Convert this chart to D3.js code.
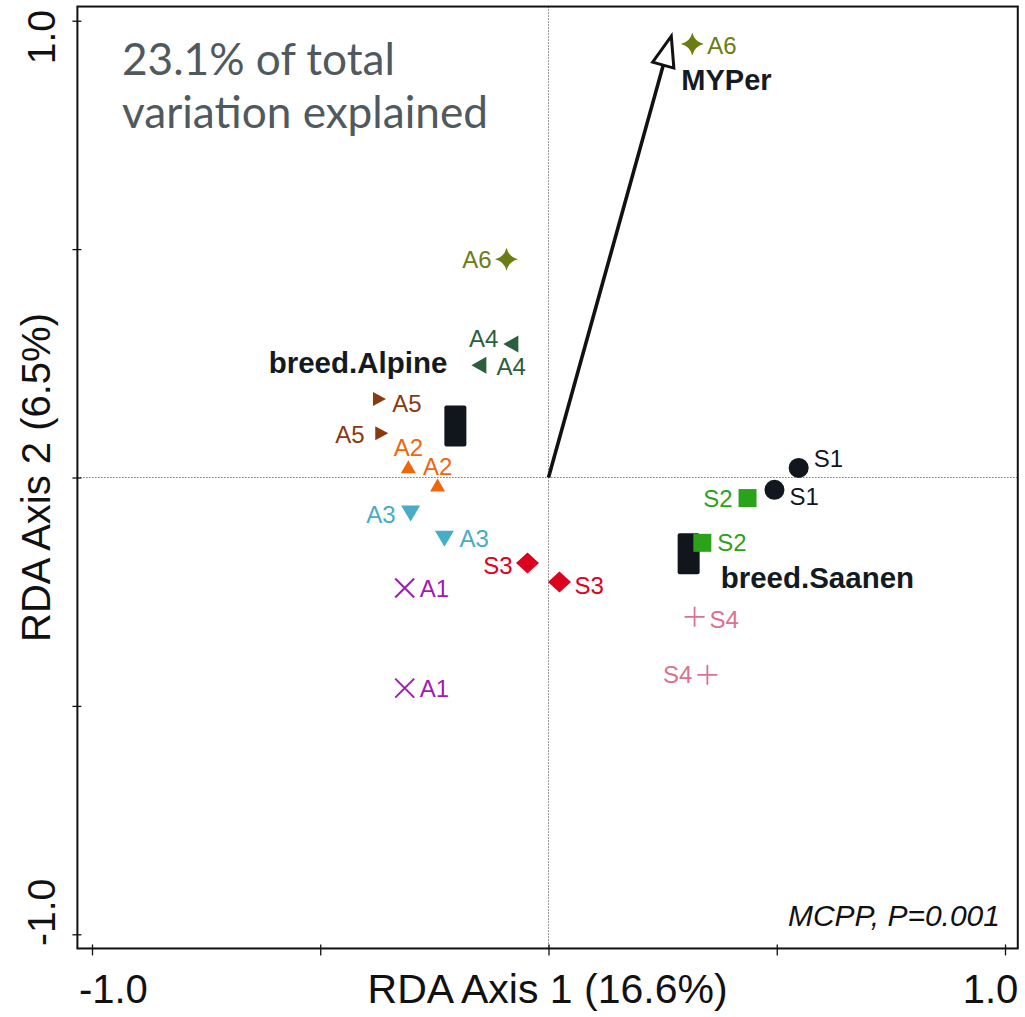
<!DOCTYPE html>
<html>
<head>
<meta charset="utf-8">
<script src="https://cdn.jsdelivr.net/npm/d3@7"></script>
<style>
  html, body { margin: 0; padding: 0; background: #ffffff; }
  svg { display: block; }
</style>
</head>
<body>
<svg id="chart" width="1025" height="1017"></svg>
<script>
// ---- site scores (RDA axis 1 / axis 2) ----
const siteGroups = ["A6","A6","A4","A4","A5","A5","A2","A2","A3","A3",
                    "S3","S3","A1","A1","S1","S1","S2","S2","S4","S4"];
const siteRda1 = [0.315, -0.092, -0.077, -0.147, -0.375, -0.370, -0.307, -0.243, -0.302, -0.228,
                  -0.046, 0.024, -0.315, -0.315, 0.548, 0.495, 0.436, 0.337, 0.320, 0.348];
const siteRda2 = [0.949, 0.478, 0.292, 0.246, 0.172, 0.097, 0.019, -0.021, -0.073, -0.128,
                  -0.187, -0.229, -0.242, -0.461, 0.021, -0.027, -0.045, -0.143, -0.305, -0.432];

// ---- groups ----
const groupNames  = ["A1","A2","A3","A4","A5","A6","S1","S2","S3","S4"];
const groupColors = ["#a11ab3","#f0670a","#47adc6","#2b5f3b","#8a3a10",
                     "#6b7d12","#12161f","#2aa31a","#dc0021","#d9728f"];
const groupShapes = ["cross","triangleUp","triangleDown","triangleLeft","triangleRight",
                     "star4","circle","square","diamond","plus"];

// ---- factor centroids ----
const centroidNames = ["breed.Alpine","breed.Saanen"];
const centroidRda1  = [-0.204, 0.307];
const centroidRda2  = [0.113, -0.167];

// ---- environmental vector ----
const vectorNames = ["MYPer"];
const vectorRda1  = [0.269];
const vectorRda2  = [0.966];

// ---- axes ----
const axisTicks  = [-1, -0.5, 0, 0.5, 1];
const tickLabels = {"-1": "-1.0", "1": "1.0"};
const xTitle = "RDA Axis 1 (16.6%)";
const yTitle = "RDA Axis 2 (6.5%)";
const noteLines = ["23.1% of total", "variation explained"];
const testNote = "MCPP, P=0.001";

// ---- label placement (side of marker, extra vertical nudge in px) ----
const siteLabelSide  = ["right","left","left","right","right","left","top","top","left","right",
                        "left","right","right","right","right","right","left","right","right","left"];
const siteLabelNudge = [1, 0, -6, 1, 4, 1, 0, 0, 4, 2,
                        2, 3, 0, 0, -10, 7, 0, 0, 3, 0];

const svg = d3.select("#chart");
const x = d3.scaleLinear().domain([-1, 1]).range([92, 1005]);
const y = d3.scaleLinear().domain([-1, 1]).range([934.3, 20.7]);

const box = { left: x(-1.032), right: x(1.028), top: y(1.031), bottom: y(-1.031) };

// zero reference lines
svg.append("line")
  .attr("x1", x(0)).attr("x2", x(0)).attr("y1", box.top).attr("y2", box.bottom)
  .attr("stroke", "#333").attr("stroke-width", 1).attr("stroke-dasharray", "1,2");
svg.append("line")
  .attr("x1", box.left).attr("x2", box.right).attr("y1", y(0)).attr("y2", y(0))
  .attr("stroke", "#333").attr("stroke-width", 1).attr("stroke-dasharray", "1,2");

// axes
const xAxis = svg.append("g")
  .attr("transform", `translate(0,${box.bottom})`)
  .call(d3.axisBottom(x).tickValues(axisTicks).tickSize(7).tickSizeOuter(0)
        .tickFormat(d => tickLabels[String(d)] || ""));
xAxis.select(".domain").remove();
xAxis.selectAll(".tick line").attr("y1", -4).attr("stroke", "#111").attr("stroke-width", 1.3);
xAxis.selectAll(".tick text")
  .attr("font-family", "'Liberation Sans', Arial, sans-serif")
  .attr("font-size", 40).attr("fill", "#111")
  .attr("y", 0).attr("dy", 0)
  .attr("transform", "translate(0,55)")
  .attr("text-anchor", d => d < 0 ? "start" : "end")
  .attr("x", d => d < 0 ? box.left - x(d) + 1 : box.right - x(d));

const yAxis = svg.append("g")
  .attr("transform", `translate(${box.left},0)`)
  .call(d3.axisLeft(y).tickValues(axisTicks).tickSize(5).tickSizeOuter(0)
        .tickFormat(d => tickLabels[String(d)] || ""));
yAxis.select(".domain").remove();
yAxis.selectAll(".tick line").attr("x2", 4).attr("x1", -5).attr("stroke", "#111").attr("stroke-width", 1.3);
yAxis.selectAll(".tick text")
  .attr("font-family", "'Liberation Sans', Arial, sans-serif")
  .attr("font-size", 39).attr("fill", "#111")
  .attr("x", 0).attr("dy", 0)
  .attr("transform", d => {
    const ty = d < 0 ? box.bottom - 3 - y(d) : box.top + 3 - y(d);
    return `translate(-22,${ty}) rotate(-90)`;
  })
  .attr("text-anchor", d => d < 0 ? "start" : "end");

// plot frame
svg.append("rect")
  .attr("x", box.left).attr("y", box.top)
  .attr("width", box.right - box.left).attr("height", box.bottom - box.top)
  .attr("fill", "none").attr("stroke", "#111").attr("stroke-width", 2);

// axis titles
svg.append("text")
  .attr("x", (box.left + box.right) / 2).attr("y", 1003)
  .attr("text-anchor", "middle")
  .attr("font-family", "'Liberation Sans', Arial, sans-serif")
  .attr("font-size", 41).attr("fill", "#111")
  .text(xTitle);
svg.append("text")
  .attr("transform", `translate(50,${y(0)}) rotate(-90)`)
  .attr("text-anchor", "middle")
  .attr("font-family", "'Liberation Sans', Arial, sans-serif")
  .attr("font-size", 40).attr("fill", "#111")
  .text(yTitle);

// variance note (top-left)
const note = svg.append("g");
noteLines.forEach((t, i) => {
  note.append("text")
    .attr("x", 122).attr("y", 75 + i * 53)
    .attr("font-family", "Lato, 'Open Sans', sans-serif")
    .attr("font-size", 44).attr("fill", "#4f595e")
    .text(t);
});
// fit the note block to its intended width
(function () {
  const t = note.selectAll("text").nodes()[1];
  const w = t.getComputedTextLength();
  const target = 366;
  const fs = 44 * target / w;
  note.selectAll("text").attr("font-size", fs);
})();

// permutation test note
svg.append("text")
  .attr("x", 1000).attr("y", 926)
  .attr("text-anchor", "end")
  .attr("font-family", "'Liberation Sans', Arial, sans-serif")
  .attr("font-style", "italic")
  .attr("font-size", 30).attr("fill", "#111")
  .text(testNote);

// marker shapes
function markerPath(shape) {
  const p = d3.path();
  switch (shape) {
    case "triangleUp": { const w = 15, h = 13;
      p.moveTo(0, -2*h/3); p.lineTo(w/2, h/3); p.lineTo(-w/2, h/3); p.closePath(); break; }
    case "triangleDown": { const w = 19, h = 16;
      p.moveTo(0, 2*h/3); p.lineTo(w/2, -h/3); p.lineTo(-w/2, -h/3); p.closePath(); break; }
    case "triangleLeft": { const w = 15, h = 17;
      p.moveTo(-2*w/3, 0); p.lineTo(w/3, -h/2); p.lineTo(w/3, h/2); p.closePath(); break; }
    case "triangleRight": { const w = 13, h = 14;
      p.moveTo(2*w/3, 0); p.lineTo(-w/3, -h/2); p.lineTo(-w/3, h/2); p.closePath(); break; }
    case "diamond": { const a = 11.5, b = 10.5;
      p.moveTo(0, -b); p.lineTo(a, 0); p.lineTo(0, b); p.lineTo(-a, 0); p.closePath(); break; }
    case "square": { const s = 9;
      p.rect(-s, -s, 2*s, 2*s); break; }
    case "circle": { p.arc(0, 0, 10, 0, 2*Math.PI); p.closePath(); break; }
    case "star4": { const R = 11.5, c = 2.2;
      p.moveTo(0, -R); p.quadraticCurveTo(c, -c, R, 0);
      p.quadraticCurveTo(c, c, 0, R); p.quadraticCurveTo(-c, c, -R, 0);
      p.quadraticCurveTo(-c, -c, 0, -R); p.closePath(); break; }
    case "cross": { const s = 9.5;
      p.moveTo(-s, -s); p.lineTo(s, s); p.moveTo(-s, s); p.lineTo(s, -s); break; }
    case "plus": { const s = 10;
      p.moveTo(-s, 0); p.lineTo(s, 0); p.moveTo(0, -s); p.lineTo(0, s); break; }
  }
  return p.toString();
}
const lineShapes = new Set(["cross", "plus"]);

const sites = siteGroups.map((g, i) => {
  const gi = groupNames.indexOf(g);
  return { name: g, x: siteRda1[i], y: siteRda2[i], color: groupColors[gi], shape: groupShapes[gi],
           side: siteLabelSide[i], nudge: siteLabelNudge[i] };
});

// environmental vector arrow
vectorNames.forEach((name, i) => {
  const x0 = x(0), y0 = y(0), x1 = x(vectorRda1[i]), y1 = y(vectorRda2[i]);
  const len = Math.hypot(x1 - x0, y1 - y0);
  const ux = (x1 - x0) / len, uy = (y1 - y0) / len;
  const headL = 30, headW = 11;
  const bx = x1 - ux * headL, by = y1 - uy * headL;
  svg.append("line")
    .attr("x1", x0).attr("y1", y0).attr("x2", bx).attr("y2", by)
    .attr("stroke", "#111").attr("stroke-width", 3.6);
  svg.append("path")
    .attr("d", `M${x1},${y1}L${bx - uy*headW},${by + ux*headW}L${bx + uy*headW},${by - ux*headW}Z`)
    .attr("fill", "#fff").attr("stroke", "#111").attr("stroke-width", 3).attr("stroke-linejoin", "miter");
  svg.append("text")
    .attr("x", x1 + 10).attr("y", y1 + 54)
    .attr("font-family", "'Liberation Sans', Arial, sans-serif")
    .attr("font-weight", "bold").attr("font-size", 29).attr("fill", "#141a22")
    .text(name);
});

// centroids
const centroidLabelAnchor = ["end", "start"];
const centroidLabelDx = [-8, 32];
const centroidLabelDy = [-53, 34];
centroidNames.forEach((name, i) => {
  const cx = x(centroidRda1[i]), cy = y(centroidRda2[i]);
  svg.append("rect")
    .attr("x", cx - 11).attr("y", cy - 20.5).attr("width", 22).attr("height", 41)
    .attr("rx", 2).attr("fill", "#11151c");
  svg.append("text")
    .attr("x", cx + centroidLabelDx[i]).attr("y", cy + centroidLabelDy[i])
    .attr("text-anchor", centroidLabelAnchor[i])
    .attr("font-family", "'Liberation Sans', Arial, sans-serif")
    .attr("font-weight", "bold").attr("font-size", 29.5).attr("fill", "#141a22")
    .text(name);
});

// site markers
const siteG = svg.append("g");
siteG.selectAll("path").data(sites).join("path")
  .attr("transform", d => `translate(${x(d.x)},${y(d.y)})`)
  .attr("d", d => markerPath(d.shape))
  .attr("fill", d => lineShapes.has(d.shape) ? "none" : d.color)
  .attr("stroke", d => lineShapes.has(d.shape) ? d.color : "none")
  .attr("stroke-width", d => d.shape === "cross" ? 2 : 1.8);

// site labels
siteG.selectAll("text").data(sites).join("text")
  .attr("x", d => x(d.x) + (d.side === "right" ? 15 : d.side === "left" ? -15 : 0))
  .attr("y", d => y(d.y) + d.nudge + (d.side === "top" ? -21 : 0))
  .attr("dy", "0.36em")
  .attr("text-anchor", d => d.side === "right" ? "start" : d.side === "left" ? "end" : "middle")
  .attr("font-family", "'Liberation Sans', Arial, sans-serif")
  .attr("font-size", 24)
  .attr("fill", d => d.color)
  .text(d => d.name);
</script>
</body>
</html>
